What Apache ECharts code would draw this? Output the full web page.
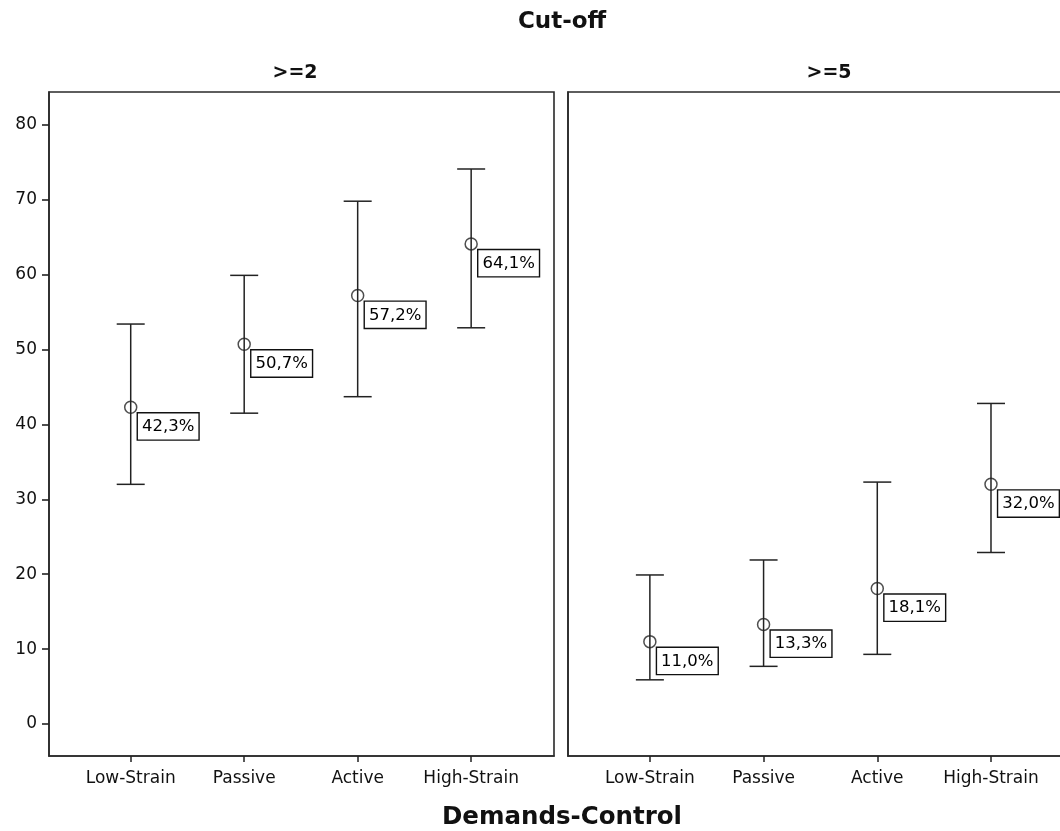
<!DOCTYPE html>
<html>
<head>
<meta charset="utf-8">
<script src="https://cdn.jsdelivr.net/npm/echarts@6.0.0/dist/echarts.min.js"></script>
<style>
html,body{margin:0;padding:0;background:#fff;overflow:hidden;width:1060px;height:831px;}
#chart{width:1100px;height:831px;}
</style>
</head>
<body>
<div id="chart"></div>
<script>
// ---- Data ----
const categories = ['Low-Strain', 'Passive', 'Active', 'High-Strain'];
const panelTitles = ['>=2', '>=5'];
const cut2Mean  = [42.3, 50.7, 57.2, 64.1];
const cut2Lower = [32.0, 41.5, 43.7, 52.9];
const cut2Upper = [53.4, 59.9, 69.8, 74.1];
const cut5Mean  = [11.0, 13.3, 18.1, 32.0];
const cut5Lower = [5.9, 7.7, 9.3, 22.9];
const cut5Upper = [19.9, 21.9, 32.3, 42.8];
const yTicks = [0, 10, 20, 30, 40, 50, 60, 70, 80];
const mainTitle = 'Cut-off';
const xTitle = 'Demands-Control';

const FONT = 'DejaVu Sans';
const INK = '#222';
const TXT = '#111';
const catPos = categories.map((c, i) => i + 1);
const xMin = 0.28, xMax = 4.73;
const yMin = -4.27, yMax = 84.38;

function errData(lo, hi) { return catPos.map((x, i) => [x, lo[i], hi[i]]); }
function meanData(m) { return catPos.map((x, i) => [x, m[i]]); }
function fmt(v) { return v.toFixed(1).replace('.', ',') + '%'; }

function errSeries(idx, lo, hi) {
  return {
    type: 'custom', xAxisIndex: idx, yAxisIndex: idx, z: 2,
    data: errData(lo, hi),
    renderItem: function (params, api) {
      const x = api.value(0);
      const pHi = api.coord([x, api.value(2)]);
      const pLo = api.coord([x, api.value(1)]);
      const hw = 14;
      const st = { stroke: INK, lineWidth: 1.5 };
      return {
        type: 'group',
        children: [
          { type: 'line', shape: { x1: pHi[0], y1: pHi[1], x2: pLo[0], y2: pLo[1] }, style: st },
          { type: 'line', shape: { x1: pHi[0] - hw, y1: pHi[1], x2: pHi[0] + hw, y2: pHi[1] }, style: st },
          { type: 'line', shape: { x1: pLo[0] - hw, y1: pLo[1], x2: pLo[0] + hw, y2: pLo[1] }, style: st }
        ]
      };
    }
  };
}

function meanSeries(idx, m) {
  return {
    type: 'scatter', xAxisIndex: idx, yAxisIndex: idx, z: 5,
    data: meanData(m),
    symbol: 'circle', symbolSize: 12,
    itemStyle: { color: 'rgba(0,0,0,0)', borderColor: INK, borderWidth: 1.5 },
    emphasis: { disabled: true },
    label: {
      show: true,
      position: [14, 13],
      align: 'left', verticalAlign: 'top',
      formatter: p => fmt(p.value[1]),
      fontFamily: FONT, fontSize: 16.5, color: '#000', opacity: 1,
      backgroundColor: '#fff', borderColor: '#111', borderWidth: 1.4,
      padding: [5, 4, 4, 4]
    }
  };
}

const gridTop = 92, gridH = 664;

function xAxis(idx) {
  return {
    type: 'value', gridIndex: idx, min: xMin, max: xMax, position: 'bottom',
    axisLine: { show: true, onZero: false, lineStyle: { color: '#2a2a2a', width: 1.6 } },
    splitLine: { show: false },
    axisTick: { show: true, customValues: catPos, length: 6, lineStyle: { color: INK, width: 1.5 } },
    axisLabel: {
      customValues: catPos, margin: 14,
      formatter: v => categories[Math.round(v) - 1] || '',
      fontFamily: FONT, fontSize: 17, color: TXT
    }
  };
}
function yAxis(idx, showLabels) {
  return {
    type: 'value', gridIndex: idx, min: yMin, max: yMax, position: 'left',
    axisLine: { show: true, onZero: false, lineStyle: { color: '#2a2a2a', width: 1.6 } },
    splitLine: { show: false },
    axisTick: { show: showLabels, customValues: yTicks, length: 7, lineStyle: { color: INK, width: 1.6 } },
    axisLabel: {
      show: showLabels, customValues: yTicks, margin: 12,
      fontFamily: FONT, fontSize: 17, color: TXT
    }
  };
}

const chart = echarts.init(document.getElementById('chart'), null, { renderer: 'canvas' });
chart.setOption({
  animation: false,
  backgroundColor: '#fff',
  grid: [
    { left: 49, top: gridTop, width: 505, height: gridH, show: true, borderColor: '#2a2a2a', borderWidth: 1.6, backgroundColor: 'transparent' },
    { left: 568, top: gridTop, width: 506, height: gridH, show: true, borderColor: '#2a2a2a', borderWidth: 1.6, backgroundColor: 'transparent' }
  ],
  xAxis: [xAxis(0), xAxis(1)],
  yAxis: [yAxis(0, true), yAxis(1, false)],
  graphic: [
    { type: 'text', x: 562, y: 22, style: { text: mainTitle, x: 0, y: 0, align: 'center', verticalAlign: 'middle', font: 'bold 23px "DejaVu Sans"', fill: '#111' } },
    { type: 'text', x: 295, y: 73, style: { text: panelTitles[0], x: 0, y: 0, align: 'center', verticalAlign: 'middle', font: 'bold 19px "DejaVu Sans"', fill: '#111' } },
    { type: 'text', x: 829, y: 73, style: { text: panelTitles[1], x: 0, y: 0, align: 'center', verticalAlign: 'middle', font: 'bold 19px "DejaVu Sans"', fill: '#111' } },
    { type: 'text', x: 562, y: 818, style: { text: xTitle, x: 0, y: 0, align: 'center', verticalAlign: 'middle', font: 'bold 24.5px "DejaVu Sans"', fill: '#111' } }
  ],
  series: [
    errSeries(0, cut2Lower, cut2Upper),
    meanSeries(0, cut2Mean),
    errSeries(1, cut5Lower, cut5Upper),
    meanSeries(1, cut5Mean)
  ]
});
</script>
</body>
</html>
